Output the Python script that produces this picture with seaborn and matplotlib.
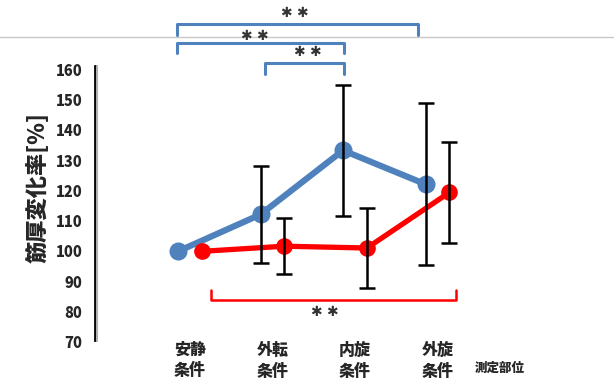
import numpy as np
import pandas as pd
import seaborn as sns
import matplotlib.pyplot as plt
from matplotlib.lines import Line2D

# measurement conditions (x categories)
conditions = ["安静\n条件", "外転\n条件", "内旋\n条件", "外旋\n条件"]

# blue series: mean and SD of muscle thickness change [%]
blue_mean = [100.0, 112.2, 133.4, 122.2]
blue_sd = [0.0, 16.0, 21.6, 26.8]

# red series
red_mean = [100.0, 101.7, 101.1, 119.5]
red_sd = [0.0, 9.3, 13.3, 16.7]

yticks = [70, 80, 90, 100, 110, 120, 130, 140, 150, 160]

# significance brackets: (x_start, x_end, y_line, y_tip) in category units
blue_brackets = [(-0.16, 2.76, 175.2, 171.6),
                 (-0.16, 1.87, 168.9, 165.6),
                 (0.91, 1.87, 162.3, 158.7)]
blue_stars = [(1.27, 178.9), (0.79, 171.3), (1.43, 166.0)]
red_bracket = (0.25, 3.23, 83.9, 87.2)
red_star = (1.64, 79.9)

BLUE = "#4F81BD"
RED = "#FF0000"

sns.set_style("white")
plt.rcParams["font.family"] = ["Noto Sans CJK JP", "DejaVu Sans"]

offset = 0.145
idx = np.arange(len(conditions))
df = pd.DataFrame({
    "pos": np.concatenate([idx - offset, idx + offset]),
    "mean": blue_mean + red_mean,
    "sd": blue_sd + red_sd,
    "series": ["blue"] * 4 + ["red"] * 4,
})

fig = plt.figure(figsize=(6.14, 3.85), dpi=100)
ax = fig.add_axes([95 / 614, 43 / 385, 375 / 614, 272 / 385])

b = df[df["series"] == "blue"]
r = df[df["series"] == "red"]
sns.lineplot(data=b, x="pos", y="mean", color=BLUE, marker="o", linewidth=4.5,
             markersize=13, markeredgewidth=0, ax=ax, zorder=3)
sns.lineplot(data=r, x="pos", y="mean", color=RED, marker="o", linewidth=3.8,
             markersize=12, markeredgewidth=0, ax=ax, zorder=4)

for sub in (b, r):
    s = sub[sub["sd"] > 0]
    ax.errorbar(s["pos"], s["mean"], yerr=s["sd"], fmt="none", ecolor="black",
                elinewidth=1.8, capsize=5.5, capthick=1.8, zorder=5)

# brackets
star_kw = dict(ha="center", va="center", fontsize=10, color="#333333",
               family="DejaVu Sans", clip_on=False)
for x0, x1, yl, yt in blue_brackets:
    ax.plot([x0, x0, x1, x1], [yt, yl, yl, yt], color=BLUE, lw=2.2,
            solid_joinstyle="round", clip_on=False, zorder=6)
for x, y in blue_stars:
    ax.text(x, y, "✱ ✱", **star_kw)
x0, x1, yl, yt = red_bracket
ax.plot([x0, x0, x1, x1], [yt, yl, yl, yt], color=RED, lw=1.8,
        solid_joinstyle="round", clip_on=False, zorder=6)
ax.text(red_star[0], red_star[1], "✱ ✱", **star_kw)

ax.set_xlim(-95 / 82.5, 280 / 82.5)
ax.set_ylim(70, 160)
ax.set_xticks(idx)
ax.set_xticklabels(conditions, fontsize=11.5, fontweight="heavy", linespacing=1.35)
ax.set_yticks(yticks)
ax.set_yticklabels([str(v) for v in yticks], fontsize=10.5, fontweight="heavy")
ax.tick_params(axis="x", length=0, pad=0)
ax.tick_params(axis="y", length=0, pad=9)
ax.set_xlabel("")
ax.set_ylabel("筋厚変化率[%]", fontsize=16, fontweight="heavy")
ax.yaxis.set_label_coords(-0.12, 0.566)

for side in ("top", "right", "bottom"):
    ax.spines[side].set_visible(False)
ax.spines["left"].set_linewidth(2)
ax.spines["left"].set_color("black")
ax.spines["left"].set_bounds(70.5, 161.3)
ax.spines["left"].set_zorder(2)

# grey shadow next to the axis line
fig.add_artist(Line2D([97.5 / 614, 97.5 / 614], [1 - 66 / 385, 1 - 341 / 385],
                      color="#b0b0b0", lw=1.5, zorder=1))

fig.text(475 / 614, (385 - 368) / 385, "測定部位", fontsize=9, fontweight="heavy",
         va="center", ha="left")

# thin grey line across the top
fig.add_artist(Line2D([0, 1], [1 - 37 / 385, 1 - 37 / 385], color="#c8c8c8",
                      lw=1, zorder=0))

fig.savefig("out.png", dpi=100)
